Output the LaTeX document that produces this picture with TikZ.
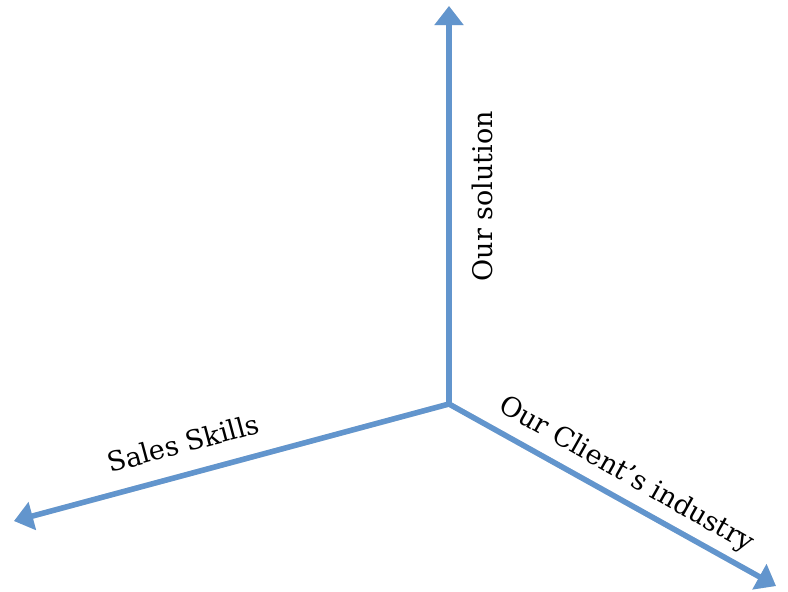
\documentclass[tikz,border=0pt]{standalone}
\usepackage{fontspec}
\setmainfont{DejaVu Serif}
\usetikzlibrary{arrows.meta}

\definecolor{axisblue}{RGB}{98,149,205}

\tikzset{
  axis/.style={line width=5.5pt, color=axisblue, -{Triangle[length=19pt,width=28pt]}},
  axisshadow/.style={line width=5.5pt, color=black, opacity=0.12, -{Triangle[length=19pt,width=28pt]}},
  axislabel/.style={font=\fontsize{27}{31}\selectfont, inner sep=0pt}
}

\begin{document}
\begin{tikzpicture}[x=1pt, y=-1pt]
  \useasboundingbox (0,0) rectangle (788,592);

  % the three axes meet here
  \coordinate (o) at (449,404);
  \coordinate (up) at (449,6);
  \coordinate (lft) at (14,521);
  \coordinate (rgt) at (776,586);

  % soft shadow under the axes
  \begin{scope}[shift={(2,2.5)}]
    \draw[axisshadow] (o) -- (up);
    \draw[axisshadow] (o) -- (lft);
    \draw[axisshadow] (o) -- (rgt);
  \end{scope}

  \draw[axis] (o) -- (up);
  \draw[axis] (o) -- (lft);
  \draw[axis] (o) -- (rgt);

  % axis names
  \node[axislabel, rotate=90] (solution) at (482,196) {Our solution};
  \node[axislabel, rotate=15] (sales) at (183,443) {Sales Skills};
  \node[axislabel, rotate=-29.5] (client) at (626,475) {Our Client’s industry};
\end{tikzpicture}
\end{document}
